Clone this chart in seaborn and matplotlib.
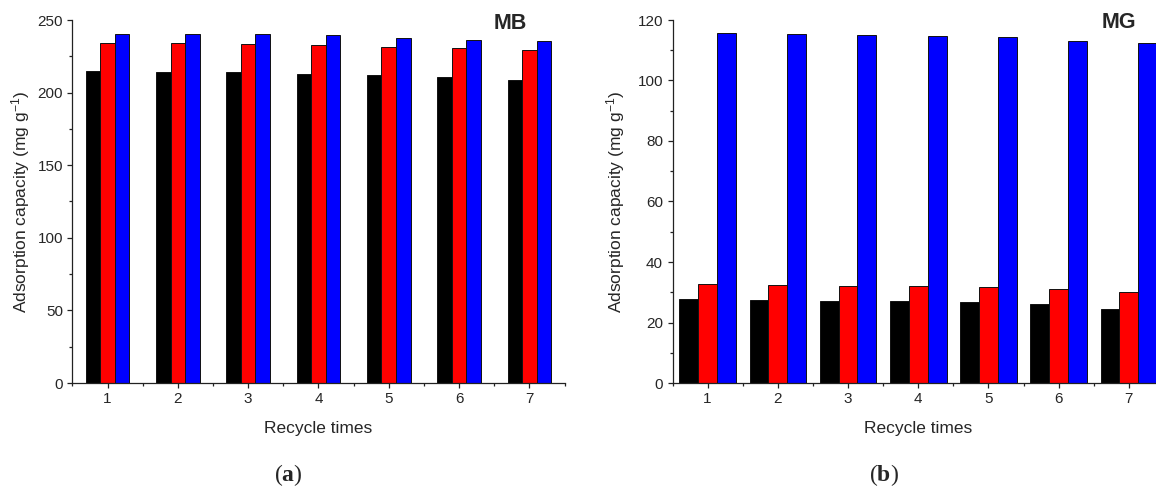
import numpy as np
import pandas as pd
import matplotlib
matplotlib.use("Agg")
import matplotlib.pyplot as plt
import seaborn as sns
from matplotlib.ticker import FixedLocator, MultipleLocator

# ---- data ----
cycles = ["1", "2", "3", "4", "5", "6", "7"]
series = ["Series 1", "Series 2", "Series 3"]
colors = ["#000000", "#FF0000", "#0000FF"]

mb_s1 = [214.7, 214.4, 214.2, 212.6, 211.9, 210.7, 208.8]
mb_s2 = [234.2, 233.9, 233.2, 232.8, 231.2, 230.5, 229.5]
mb_s3 = [240.6, 240.4, 240.1, 239.7, 237.6, 236.2, 235.5]

mg_s1 = [27.9, 27.4, 27.1, 27.0, 26.7, 26.1, 24.6]
mg_s2 = [32.7, 32.5, 32.2, 32.0, 31.9, 31.1, 30.0]
mg_s3 = [115.7, 115.3, 115.0, 114.8, 114.3, 113.2, 112.5]

ylabel = "Adsorption capacity (mg g$^{-1}$)"
xlabel = "Recycle times"

# ---- style ----
sns.set_style("ticks")
plt.rcParams["font.family"] = ["Liberation Sans", "DejaVu Sans"]
plt.rcParams["mathtext.fontset"] = "custom"
plt.rcParams["mathtext.rm"] = "Liberation Sans"
plt.rcParams["mathtext.it"] = "Liberation Sans:italic"
plt.rcParams["mathtext.bf"] = "Liberation Serif:bold"

W, H = 1156, 486
fig = plt.figure(figsize=(W / 100, H / 100), dpi=100)
axa = fig.add_axes([72.4 / W, 103 / H, 492.1 / W, 363 / H])
axb = fig.add_axes([672.5 / W, 103 / H, 491.5 / W, 363 / H])


def draw(ax, s1, s2, s3, width, ymax, ystep, tag, tagx, tagy, ylx):
    df = pd.DataFrame({
        "cycle": cycles * 3,
        "value": s1 + s2 + s3,
        "series": np.repeat(series, len(cycles)),
    })
    sns.barplot(data=df, x="cycle", y="value", hue="series", order=cycles,
                hue_order=series, palette=colors, width=width, saturation=1,
                edgecolor="#111111", linewidth=0.7, legend=False,
                errorbar=None, ax=ax)
    ax.set_xlim(-0.5, 6.5)
    ax.set_ylim(0, ymax)
    ax.yaxis.set_major_locator(MultipleLocator(ystep))
    ax.yaxis.set_minor_locator(MultipleLocator(ystep / 2))
    ax.xaxis.set_minor_locator(FixedLocator(np.arange(-0.5, 7.0, 1.0)))
    sns.despine(ax=ax)
    for sp in ("left", "bottom"):
        ax.spines[sp].set_linewidth(0.9)
        ax.spines[sp].set_color("#222222")
    ax.tick_params(which="major", direction="out", length=3.8, width=0.9,
                   labelsize=11, pad=3, color="#222222")
    ax.tick_params(which="minor", direction="out", length=2.3, width=0.9,
                   color="#222222")
    ax.set_xlabel(xlabel, fontsize=12.5)
    ax.set_ylabel(ylabel, fontsize=12.5)
    ax.xaxis.set_label_coords(0.5, -0.105)
    ax.yaxis.set_label_coords(ylx, 0.5)
    ax.text(tagx, tagy, tag, transform=ax.transAxes, ha="center", va="center",
            fontsize=15.5, fontweight="bold")


draw(axa, mb_s1, mb_s2, mb_s3, 0.62, 250, 50, "MB", 0.889, 0.989, -0.082)
draw(axb, mg_s1, mg_s2, mg_s3, 0.805, 120, 20, "MG", 0.908, 0.992, -0.0926)

fig.text(288 / W, 1 - 475 / H, r"($\mathbf{a}$)", ha="center", va="center",
         fontsize=17, family="Liberation Serif")
fig.text(884 / W, 1 - 475 / H, r"($\mathbf{b}$)", ha="center", va="center",
         fontsize=17, family="Liberation Serif")

fig.savefig("out.png", dpi=100)
